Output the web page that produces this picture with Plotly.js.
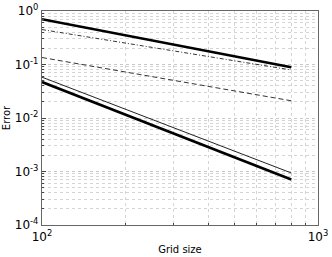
<!DOCTYPE html>
<html>
<head>
<meta charset="utf-8">
<script src="https://cdn.plot.ly/plotly-3.0.1.min.js"></script>
<style>html,body{margin:0;padding:0;background:#fff;}#chart{width:332px;height:257px;}</style>
</head>
<body>
<div id="chart"></div>
<script>
const gridSizes = [100, 800];
const errThickTop = [0.70, 0.089];
const errDashDot = [0.45, 0.079];
const errDashed = [0.135, 0.021];
const errThin = [0.058, 0.00094];
const errThickBottom = [0.047, 0.00071];

const xTickVals = [100, 1000];
const xTickText = ['10<sup>2</sup>', '10<sup>3</sup>'];
const yTickVals = [1, 0.1, 0.01, 0.001, 0.0001];
const yTickText = ['10<sup>0</sup>', '10<sup>-1</sup>', '10<sup>-2</sup>', '10<sup>-3</sup>', '10<sup>-4</sup>'];

const mk = (y, w, dash, color) => ({
  x: gridSizes, y: y, mode: 'lines', type: 'scatter',
  line: {color: color, width: w, dash: dash}, showlegend: false
});

const data = [
  mk(errThickTop, 2.6, 'solid', '#000'),
  mk(errDashDot, 1, '4px,2px,1px,2px', '#333'),
  mk(errDashed, 1, '5px,3px', '#333'),
  mk(errThin, 1, 'solid', '#222'),
  mk(errThickBottom, 2.6, 'solid', '#000')
];

const axBase = {
  type: 'log', showline: true, mirror: true, linecolor: '#666', linewidth: 1.2,
  showgrid: true, gridcolor: '#c8c8c8', griddash: 'dot', gridwidth: 1,
  zeroline: false, ticks: 'inside', ticklen: 4, tickcolor: '#444',
  tickfont: {family: 'DejaVu Sans', size: 12, color: '#000'},
  minor: {showgrid: true, gridcolor: '#d4d4d4', griddash: 'dot', gridwidth: 1, ticks: 'inside', ticklen: 2, tickcolor: '#444', dtick: 'D1'}
};

const layout = {
  width: 332, height: 257,
  margin: {l: 42, r: 14, t: 11, b: 32},
  paper_bgcolor: '#fff', plot_bgcolor: '#fff',
  font: {family: 'DejaVu Sans', size: 10, color: '#000'},
  xaxis: Object.assign({}, axBase, {
    range: [2, 3], tickvals: xTickVals, ticktext: xTickText,
    title: {text: 'Grid size', font: {family: 'DejaVu Sans', size: 10}, standoff: 3}
  }),
  yaxis: Object.assign({}, axBase, {
    range: [-4, 0], tickvals: yTickVals, ticktext: yTickText,
    title: {text: 'Error', font: {family: 'DejaVu Sans', size: 10}, standoff: 2}
  })
};

Plotly.newPlot('chart', data, layout, {staticPlot: true, displayModeBar: false});
</script>
</body>
</html>
